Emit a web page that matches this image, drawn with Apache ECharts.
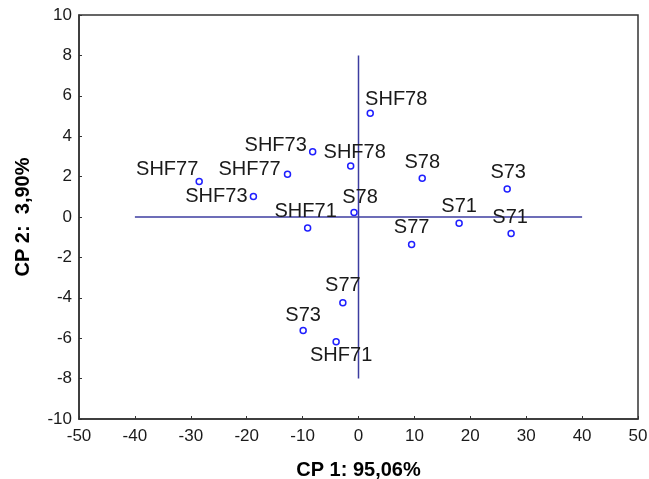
<!DOCTYPE html>
<html>
<head>
<meta charset="utf-8">
<script src="https://cdn.jsdelivr.net/npm/echarts@6/dist/echarts.min.js"></script>
<style>
html,body{margin:0;padding:0;background:#fff;}
#chart{width:649px;height:479px;}
</style>
</head>
<body>
<div id="chart"></div>
<script>
// Data
var pointLabels = ['SHF78','SHF73','SHF78','SHF77','SHF77','SHF73','S78','SHF71','S77','S73','SHF71','S78','S73','S71','S71','S77'];
var cp1Values = [2.1, -8.2, -1.4, -28.5, -12.7, -18.8, -0.8, -9.1, -2.8, -9.9, -4.0, 11.4, 26.6, 18.0, 27.3, 9.5];
var cp2Values = [5.14, 3.23, 2.52, 1.76, 2.12, 1.02, 0.22, -0.54, -4.24, -5.62, -6.17, 1.92, 1.39, -0.31, -0.82, -1.36];
var xTicks = [-50, -40, -30, -20, -10, 0, 10, 20, 30, 40, 50];
var yTicks = [-10, -8, -6, -4, -2, 0, 2, 4, 6, 8, 10];
var hLine = [[-40, 0], [40, 0]];
var vLine = [[0, -8], [0, 8]];
var xTitle = 'CP 1: 95,06%';
var yTitle = 'CP 2:  3,90%';

// label placement (style, not data)
var labelOffsets = [[26,-14],[-37,-6],[4,-13.5],[-32,-12],[-38,-5],[-37,0],[6,-15],[-2,-16],[0,-17],[0,-15],[5,14],[0,-15.5],[1,-16],[0,-16.5],[-1,-16],[0,-17]];

var pts = cp1Values.map(function(x, i){
  return {
    value: [x, cp2Values[i]],
    name: pointLabels[i],
    label: {offset: labelOffsets[i]}
  };
});

var FONT = 'Liberation Sans, Arial, sans-serif';
var chart = echarts.init(document.getElementById('chart'), null, {renderer:'canvas'});
chart.setOption({
  animation: false,
  backgroundColor: '#fff',
  grid: {left: 79, top: 15, right: 11, bottom: 60, outerBoundsMode: 'none', containLabel: false, show: true, borderColor: '#333', borderWidth: 1.5, backgroundColor: 'transparent'},
  xAxis: {
    type: 'value', min: xTicks[0], max: xTicks[xTicks.length-1], interval: 10,
    axisLine: {show: true, onZero: false, lineStyle: {color: '#333', width: 1.5}},
    axisTick: {show: true, inside: true, length: 3, lineStyle: {color: '#333'}},
    splitLine: {show: false},
    axisLabel: {color: '#1a1a1a', fontSize: 17, fontFamily: FONT, margin: 9},
    name: xTitle, nameLocation: 'middle', nameGap: 41,
    nameTextStyle: {color: '#000', fontSize: 20, fontWeight: 'bold', fontFamily: FONT}
  },
  yAxis: {
    type: 'value', min: yTicks[0], max: yTicks[yTicks.length-1], interval: 2,
    axisLine: {show: true, onZero: false, lineStyle: {color: '#333', width: 1.5}},
    axisTick: {show: true, inside: true, length: 3, lineStyle: {color: '#333'}},
    splitLine: {show: false},
    axisLabel: {color: '#1a1a1a', fontSize: 17, fontFamily: FONT, margin: 7},
    name: yTitle, nameLocation: 'middle', nameGap: 46, nameRotate: 90,
    nameTextStyle: {color: '#000', fontSize: 20, fontWeight: 'bold', fontFamily: FONT}
  },
  series: [
    {type: 'line', data: hLine, symbol: 'none', lineStyle: {color: '#3c3ca0', width: 1.5}, z: 1, silent: true},
    {type: 'line', data: vLine, symbol: 'none', lineStyle: {color: '#3c3ca0', width: 1.5}, z: 1, silent: true},
    {
      type: 'scatter', data: pts, symbol: 'circle', symbolSize: 6,
      itemStyle: {color: '#ffffff', borderColor: '#1f1fff', borderWidth: 1.5, opacity: 1},
      z: 3,
      label: {
        show: true, position: 'inside', align: 'center', verticalAlign: 'middle',
        formatter: function(p){ return p.name; },
        color: '#1a1a1a', fontSize: 20, fontFamily: FONT
      }
    }
  ]
});
</script>
</body>
</html>
